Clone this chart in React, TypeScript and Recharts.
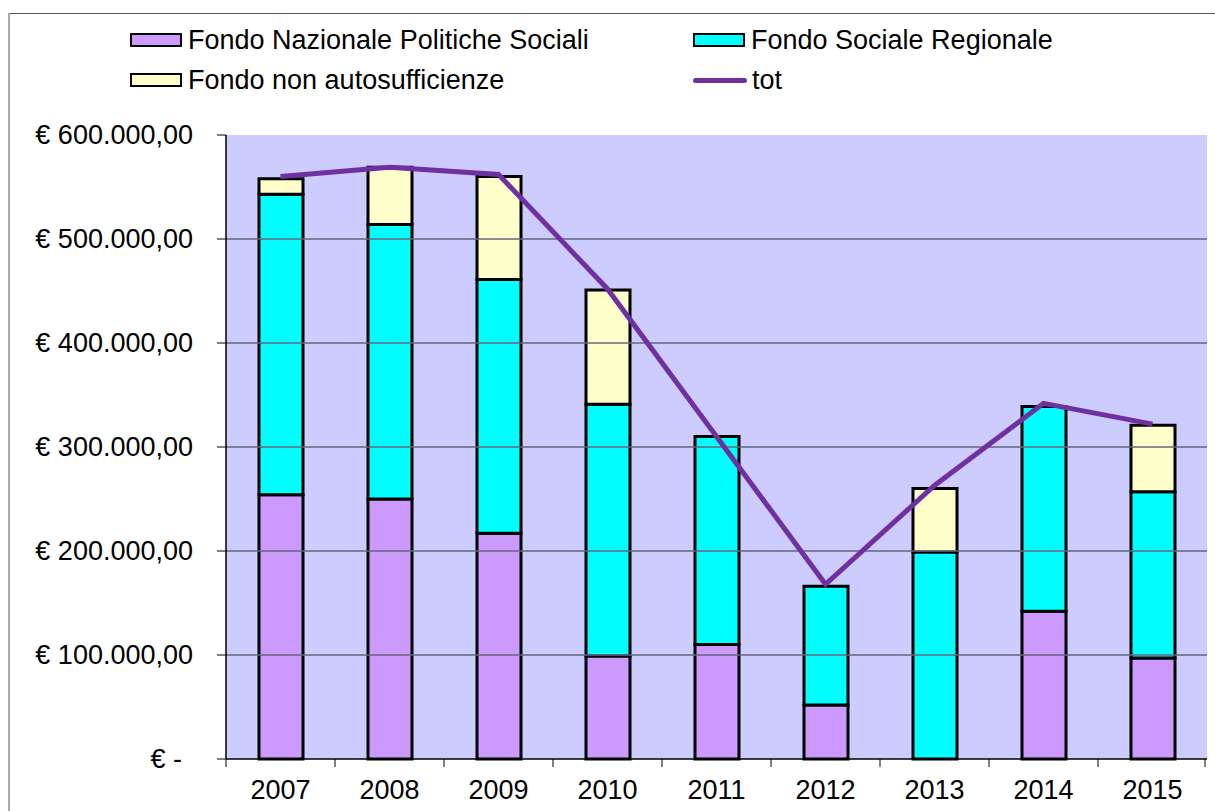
import React from "react";
import {
  ComposedChart,
  Bar,
  Line,
  XAxis,
  YAxis,
  ReferenceArea,
  ReferenceLine,
} from "recharts";

const years = ["2007", "2008", "2009", "2010", "2011", "2012", "2013", "2014", "2015"];
const fondoNazionale = [254000, 250000, 217000, 99000, 110000, 52000, 0, 142000, 97000];
const fondoRegionale = [289000, 264000, 244000, 242000, 200000, 114000, 199000, 197000, 160000];
const fondoNonAuto = [15000, 55000, 99000, 110000, 0, 0, 61000, 0, 64000];
const tot = [560000, 569000, 562000, 452000, 310000, 168000, 263000, 342000, 322000];
const yTicks = [0, 100000, 200000, 300000, 400000, 500000, 600000];
const gridValues = [100000, 200000, 300000, 400000, 500000];

const data = years.map((y, i) => ({
  year: y,
  fnps: fondoNazionale[i],
  fsr: fondoRegionale[i],
  fna: fondoNonAuto[i],
  tot: tot[i],
}));

const FONT = "'Liberation Sans', Arial, sans-serif";
const W = 1215;
const H = 811;
const PLOT_LEFT = 226;
const PLOT_RIGHT = 1207;
const BAND = (PLOT_RIGHT - PLOT_LEFT) / years.length;

const fmtEuro = (v: number) => {
  if (v === 0) return "€ -";
  const s = Math.round(v).toString().replace(/\B(?=(\d{3})+(?!\d))/g, ".");
  return `€ ${s},00`;
};

const YTick = (props: any) => {
  const { x, y, payload } = props;
  const isZero = payload.value === 0;
  return (
    <text
      x={isZero ? x - 11 : x}
      y={y}
      dy={9}
      textAnchor="end"
      fontSize={27}
      fontFamily={FONT}
      fill="#000"
    >
      {fmtEuro(payload.value)}
    </text>
  );
};

const XTick = (props: any) => {
  const { x, y, payload, index } = props;
  const left = x - BAND / 2;
  return (
    <g>
      <line x1={left} y1={y} x2={left} y2={y + 8} stroke="#000" strokeWidth={1} />
      {index === years.length - 1 && (
        <line x1={x + BAND / 2 - 2} y1={y} x2={x + BAND / 2 - 2} y2={y + 8} stroke="#000" strokeWidth={1} />
      )}
      <text x={x} y={y + 40} textAnchor="middle" fontSize={27} fontFamily={FONT} fill="#000">
        {payload.value}
      </text>
    </g>
  );
};

const legendItems = [
  { label: "Fondo Nazionale Politiche Sociali", color: "#CC99FF", type: "rect", left: 130, top: 33 },
  { label: "Fondo Sociale Regionale", color: "#00FFFF", type: "rect", left: 693, top: 33 },
  { label: "Fondo non autosufficienze", color: "#FFFFCC", type: "rect", left: 130, top: 73 },
  { label: "tot", color: "#7030A0", type: "line", left: 693, top: 73 },
];

const LegendBox = () => (
  <>
    {legendItems.map((it) => (
      <div
        key={it.label}
        style={{
          position: "absolute",
          left: it.left,
          top: it.top - 8,
          height: 30,
          display: "flex",
          alignItems: "center",
          fontFamily: FONT,
          fontSize: 27,
          color: "#000",
          whiteSpace: "nowrap",
        }}
      >
        {it.type === "rect" ? (
          <div
            style={{
              width: 48,
              height: 10,
              background: it.color,
              border: "2px solid #000",
              marginRight: 6,
            }}
          />
        ) : (
          <div
            style={{
              width: 54,
              height: 5,
              borderRadius: 3,
              background: it.color,
              marginRight: 5,
            }}
          />
        )}
        <span>{it.label}</span>
      </div>
    ))}
  </>
);

export default function App() {
  return (
    <div
      style={{
        position: "fixed",
        left: 0,
        top: 0,
        width: W,
        height: H,
        overflow: "hidden",
        background: "#fff",
      }}
    >
      {/* chart frame: top and left edges visible, the rest falls outside the window */}
      <div style={{ position: "absolute", left: 8, top: 13, width: W, height: 1, background: "#555" }} />
      <div style={{ position: "absolute", left: 8, top: 13, width: 2, height: H, background: "#aaa" }} />
      <LegendBox />
      <div style={{ position: "absolute", left: 0, top: 0 }}>
        <ComposedChart
          width={W}
          height={H}
          data={data}
          margin={{ top: 135, right: W - PLOT_RIGHT, bottom: 0, left: 0 }}
          barCategoryGap={0}
        >
          <ReferenceArea y1={0} y2={600000} fill="#CCCCFF" fillOpacity={1} stroke="none" />
          {gridValues.map((v) => (
            <ReferenceLine key={v} y={v} stroke="#66667a" strokeWidth={1.5} />
          ))}
          <XAxis
            dataKey="year"
            height={52}
            axisLine={{ stroke: "#000", strokeWidth: 1.5 }}
            tickLine={false}
            tickSize={0}
            tickMargin={0}
            interval={0}
            tick={<XTick />}
          />
          <YAxis
            width={PLOT_LEFT}
            domain={[0, 600000]}
            ticks={yTicks}
            interval={0}
            axisLine={{ stroke: "#000", strokeWidth: 1.5 }}
            tickLine={{ stroke: "#000" }}
            tickSize={9}
            tickMargin={24}
            tick={<YTick />}
          />
          <Bar dataKey="fnps" stackId="a" barSize={44} fill="#CC99FF" stroke="#000" strokeWidth={3} isAnimationActive={false} />
          <Bar dataKey="fsr" stackId="a" barSize={44} fill="#00FFFF" stroke="#000" strokeWidth={3} isAnimationActive={false} />
          <Bar dataKey="fna" stackId="a" barSize={44} fill="#FFFFCC" stroke="#000" strokeWidth={3} isAnimationActive={false} />
          <Line
            type="linear"
            dataKey="tot"
            stroke="#7030A0"
            strokeWidth={5}
            dot={false}
            activeDot={false}
            isAnimationActive={false}
          />
        </ComposedChart>
      </div>
    </div>
  );
}
